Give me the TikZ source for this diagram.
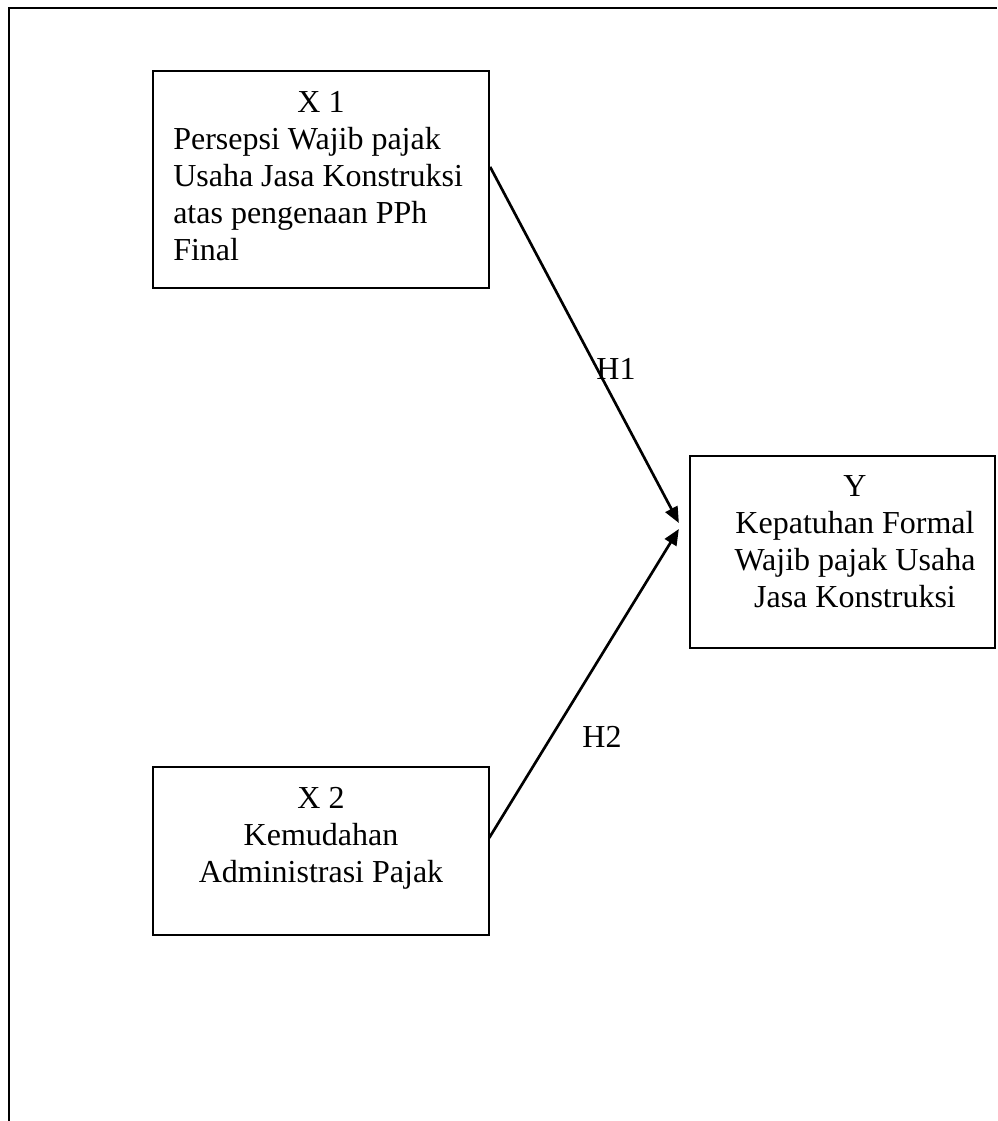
\documentclass[tikz,border=0pt]{standalone}
\usepackage{fontspec}
\setmainfont{Liberation Serif}
\usetikzlibrary{arrows.meta,calc}
\begin{document}
\begin{tikzpicture}[x=0.75pt,y=-0.75pt,
  every node/.style={font=\fontsize{24pt}{27.75pt}\selectfont, inner sep=0pt},
  box/.style={draw, line width=1.7pt, rectangle},
  conn/.style={line width=2pt, -{Triangle[length=12pt,width=10pt]}},
  txt/.style={anchor=base}]
\useasboundingbox (0,0) rectangle (997,1121);
% outer frame
\coordinate (fa) at (9,1121);
\coordinate (fb) at (9,8);
\coordinate (fc) at (997,8);
\draw[line width=2.2pt] (fa) -- (fb) -- (fc);
% boxes
\node[box, minimum width=252pt, minimum height=162.75pt] (x1) at (321,179.5) {};
\node[box, minimum width=252pt, minimum height=126pt] (x2) at (321,851) {};
\node[box, minimum width=228.75pt, minimum height=144pt] (y) at (842.5,552) {};
% texts
\node[txt] (x1t) at (321,112) {X 1};
\node[txt, anchor=base west] (x1b) at (173,149) {\begin{tabular}[t]{@{}l@{}}Persepsi Wajib pajak\\Usaha Jasa Konstruksi\\atas pengenaan PPh\\Final\end{tabular}};
\node[txt] (yt) at (855,496) {Y};
\node[txt] (yb) at (855,533) {\begin{tabular}[t]{@{}c@{}}Kepatuhan Formal\\Wajib pajak Usaha\\Jasa Konstruksi\end{tabular}};
\node[txt] (x2t) at (321,808) {X 2};
\node[txt] (x2b) at (321,845) {\begin{tabular}[t]{@{}c@{}}Kemudahan\\Administrasi Pajak\end{tabular}};
% connectors
\coordinate (s1) at ($(x1.north east)+(0,97)$);
\coordinate (s2) at ($(x2.east)+(-1,-13)$);
\coordinate (t1) at ($(y.west)+(-10,-29)$);
\coordinate (t2) at ($(y.west)+(-10,-23)$);
\draw[conn] (s1) -- (t1);
\draw[conn] (s2) -- (t2);
\node[txt] (h1) at (616,379) {H1};
\node[txt] (h2) at (602,747) {H2};
\end{tikzpicture}
\end{document}
